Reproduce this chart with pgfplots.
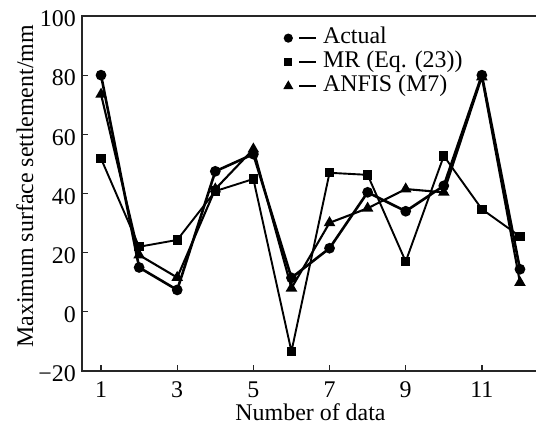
\documentclass[border=0pt]{standalone}
\usepackage{pgfplots}
\pgfplotsset{compat=1.18}
\usepackage{fontspec}
\setmainfont{Liberation Serif}
\begin{document}
\begin{tikzpicture}
\begin{axis}[
  name=ax,
  scale only axis,
  width=457bp, height=355bp,
  xmin=0.5, xmax=12.5, ymin=-20, ymax=100,
  xtick={1,3,5,7,9,11},
  ytick={-20,0,20,40,60,80,100},
  yticklabels={−20,0,20,40,60,80,100},
  tick pos=left, tick align=inside,
  major tick length=6bp,
  /pgf/number format/assume math mode=true,
  tick label style={font=\fontsize{24}{26}\selectfont, inner sep=0pt},
  xticklabel style={anchor=base, yshift=-26bp},
  yticklabel style={anchor=east, xshift=-6bp, yshift=-3bp},
  label style={font=\fontsize{24}{26}\selectfont, inner sep=0pt},
  xlabel={Number of data},
  ylabel={Maximum surface settlement/mm},
  xlabel style={at={(axis description cs:0.5,0)}, anchor=base, yshift=-49bp},
  ylabel style={at={(axis description cs:-0.1072,0.52)}, anchor=base},
  axis line style={line width=1.4bp, black!85},
  every tick/.style={black!85, line width=1.3bp},
  legend style={draw=none, fill=none, at={(axis description cs:0.444,0.972)}, anchor=north west,
    font=\fontsize{24}{26}\selectfont, inner sep=0pt, column sep=6bp,
    nodes={inner sep=0pt, text height=17bp, text depth=7bp},
    legend cell align=left},
  legend image code/.code={
    \draw[#1,mark=none,line width=1.6bp] (11bp,0bp) -- (28bp,0bp);
    \path[#1,every mark/.append style={scale=0.8}] plot[only marks] coordinates {(0bp,0bp)};
  },
]
\addplot[black, line width=2.6bp, mark=*, mark size=4bp] coordinates {
(1,80) (2,15) (3,7.4) (4,47.5) (5,53.3) (6,11.5) (7,21.5) (8,40.4) (9,34) (10,42.6) (11,80) (12,14.4)};
\addlegendentry{Actual}
\addplot[black, line width=1.9bp, mark=square*, mark size=3.7bp] coordinates {
(1,51.8) (2,22) (3,24.3) (4,40.8) (5,44.9) (6,-13.4) (7,47) (8,46.3) (9,17) (10,52.7) (11,34.7) (12,25.5)};
\addlegendentry{MR (Eq. (23))}
\addplot[black, line width=2.1bp, mark=triangle*, mark size=4.6bp] coordinates {
(1,73.5) (2,19.2) (3,11.6) (4,41.5) (5,55) (6,8) (7,30.1) (8,35) (9,41.5) (10,40.4) (11,79.4) (12,9.9)};
\addlegendentry{ANFIS (M7)}
\end{axis}
\pgfresetboundingbox
\useasboundingbox ([shift={(-82bp,-53bp)}]ax.south west) rectangle ([shift={(-3bp,16bp)}]ax.north east);
\end{tikzpicture}
\end{document}
